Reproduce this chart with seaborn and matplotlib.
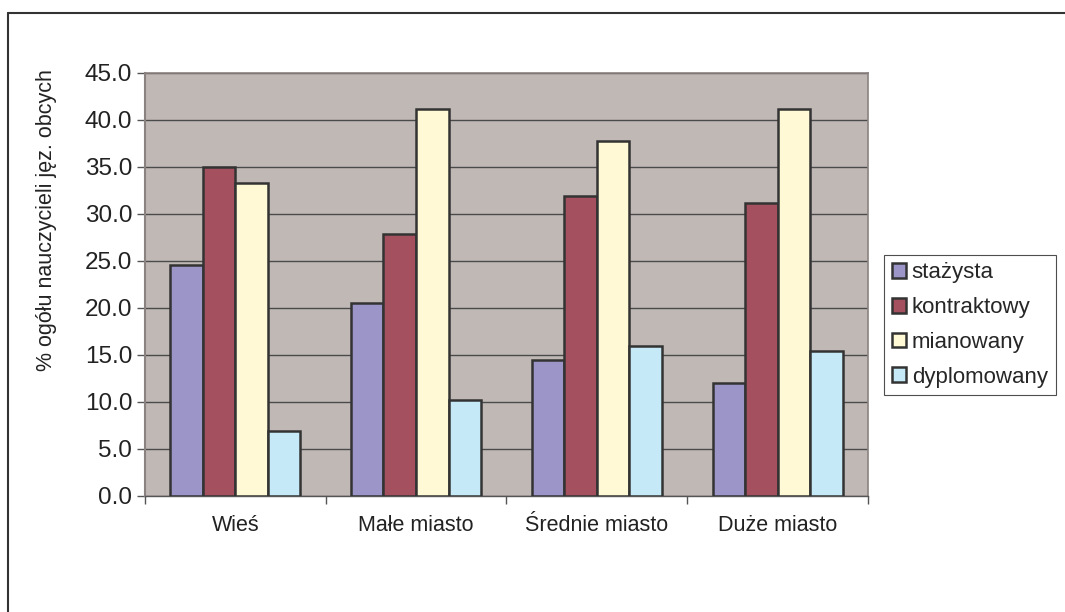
import pandas as pd
import matplotlib.pyplot as plt
import seaborn as sns
from matplotlib.lines import Line2D

kategorie = ['Wieś', 'Małe miasto', 'Średnie miasto', 'Duże miasto']
stopnie = ['stażysta', 'kontraktowy', 'mianowany', 'dyplomowany']
stazysta = [24.5, 20.5, 14.4, 12.0]
kontraktowy = [35.0, 27.8, 31.9, 31.1]
mianowany = [33.3, 41.2, 37.7, 41.1]
dyplomowany = [6.9, 10.2, 15.9, 15.4]
kolory = ['#9C96C8', '#A5505E', '#FFF9D6', '#C6E9F7']
y_ticks = [0, 5, 10, 15, 20, 25, 30, 35, 40, 45]

rows = []
for stopien, wartosci in zip(stopnie, [stazysta, kontraktowy, mianowany, dyplomowany]):
    for kat, v in zip(kategorie, wartosci):
        rows.append({'kategoria': kat, 'stopien': stopien, 'procent': v})
df = pd.DataFrame(rows)

sns.set_style('white')
plt.rcParams['font.family'] = ['Liberation Sans', 'DejaVu Sans']

fig = plt.figure(figsize=(10.65, 6.12), dpi=100)
ax = fig.add_axes([0.136, 0.190, 0.679, 0.691])
ax.set_facecolor('#C0B8B5')

sns.barplot(data=df, x='kategoria', y='procent', hue='stopien', order=kategorie,
            hue_order=stopnie, palette=kolory, width=0.72, gap=0, saturation=1,
            edgecolor='#333333', linewidth=1.8, ax=ax, zorder=3)

ax.set_ylim(0, 45)
ax.set_xlim(-0.5, 3.5)
ax.set_yticks(y_ticks)
ax.set_yticklabels([f'{t:.1f}' for t in y_ticks])
ax.yaxis.grid(True, color='#4A4A4A', linewidth=1.0, zorder=0)
ax.set_axisbelow(True)

ax.set_xticks(range(len(kategorie)))
ax.set_xticklabels(kategorie)
ax.set_xticks([-0.5, 0.5, 1.5, 2.5, 3.5], minor=True)
ax.tick_params(axis='x', which='major', length=0, pad=14, labelsize=15.5, colors='#222222')
ax.tick_params(axis='x', which='minor', length=6, width=1, color='#555555', direction='out', bottom=True)
ax.tick_params(axis='y', length=6, width=1, color='#555555', direction='out', left=True,
               labelsize=17.5, labelcolor='#222222', pad=3)

for side in ['top', 'right']:
    ax.spines[side].set_color('#8A8280')
    ax.spines[side].set_linewidth(1.2)
ax.spines['left'].set_color('#8A8280')
ax.spines['left'].set_linewidth(1.5)
ax.spines['bottom'].set_color('#555555')
ax.spines['bottom'].set_linewidth(1.0)

ax.set_xlabel('')
ax.set_ylabel('% ogółu nauczycieli jęz. obcych', fontsize=15.5, color='#222222')
ax.yaxis.set_label_coords(-0.122, 0.652)

handles, labels = ax.get_legend_handles_labels()
ax.legend(handles, labels, loc='center left', bbox_to_anchor=(0.830, 0.469),
          bbox_transform=fig.transFigure, frameon=True, fancybox=False,
          edgecolor='#222222', fontsize=16, handlelength=0.65, handleheight=0.65,
          handletextpad=0.25, labelspacing=0.62, borderpad=0.35, borderaxespad=0)
ax.get_legend().get_frame().set_linewidth(0.8)

# obramowanie wykresu (tylko góra i lewa strona)
fig.add_artist(Line2D([0.0075, 1.0], [0.979, 0.979], transform=fig.transFigure,
                      color='#333333', linewidth=1.5))
fig.add_artist(Line2D([0.0075, 0.0075], [0.0, 0.979], transform=fig.transFigure,
                      color='#333333', linewidth=1.5))

plt.savefig('out.png', dpi=100)
